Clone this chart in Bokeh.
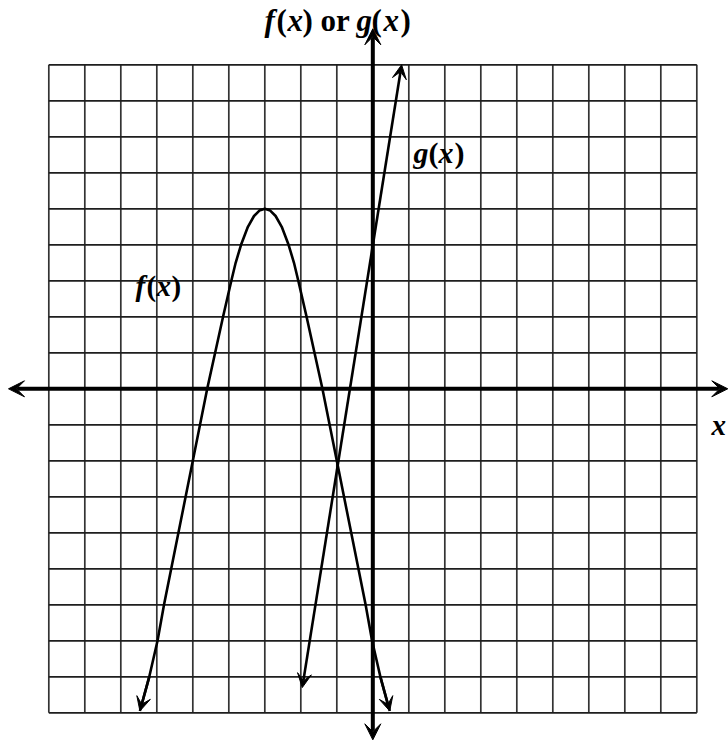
from bokeh.plotting import figure
from bokeh.models import Arrow, VeeHead, Label
from bokeh.embed import file_html
from bokeh.resources import INLINE

# ---------------- data ----------------
grid_values = list(range(-9, 10))          # grid lines at every integer, -9..9

# f(x): traced points, left branch bottom -> vertex -> right branch bottom
f_x = [-6.47, -6.21, -5.98, -5.80, -5.60, -5.40, -5.20, -5.00, -4.80, -4.60,
       -4.38, -4.16, -3.93, -3.81, -3.66, -3.47, -3.30, -3.15, -3.00,
       -2.85, -2.70, -2.53, -2.34, -2.19, -2.07, -1.84, -1.62, -1.40, -1.20,
       -1.00, -0.80, -0.60, -0.40, -0.20, -0.02, 0.21, 0.47]
f_y = [-8.95, -8.0, -7.0, -6.0, -5.0, -4.0, -3.0, -2.0, -1.0, 0.0,
       1.0, 2.0, 3.0, 3.5, 4.0, 4.5, 4.8, 4.95, 5.0,
       4.95, 4.8, 4.5, 4.0, 3.5, 3.0, 2.0, 1.0, 0.0, -1.0,
       -2.0, -3.0, -4.0, -5.0, -6.0, -7.0, -8.0, -8.95]

# g(x): straight line, end points read at its arrow tips
g_x = [-1.96, 0.80]
g_y = [-8.30, 9.00]

# axes extents (arrow tips)
x_axis_ends = [-10.12, 9.86]
y_axis_ends = [-9.75, 10.00]

PX = 36.0  # pixels per unit

p = figure(width=728, height=742, x_range=(-10.342, 9.880), y_range=(-9.825, 10.786),
           output_backend="svg", toolbar_location=None, min_border=0)
p.axis.visible = False
p.grid.visible = False
p.outline_line_color = None
p.background_fill_color = "white"
p.border_fill_color = "white"

lo, hi = grid_values[0], grid_values[-1]
# vertical grid lines
p.segment(x0=grid_values, y0=[lo] * len(grid_values), x1=grid_values, y1=[hi] * len(grid_values),
          line_color="#333333", line_width=1.7)
# horizontal grid lines
p.segment(x0=[lo] * len(grid_values), y0=grid_values, x1=[hi] * len(grid_values), y1=grid_values,
          line_color="#1e1e1e", line_width=1.7)

# coordinate axes with arrows at both ends
p.add_layout(Arrow(x_start=x_axis_ends[0], y_start=0, x_end=x_axis_ends[1], y_end=0,
                   line_width=4, line_color="black",
                   start=VeeHead(size=16, fill_color="black", line_color="black", line_width=1),
                   end=VeeHead(size=16, fill_color="black", line_color="black", line_width=1)))
p.add_layout(Arrow(x_start=0, y_start=y_axis_ends[0], x_end=0, y_end=y_axis_ends[1],
                   line_width=4, line_color="black",
                   start=VeeHead(size=16, fill_color="black", line_color="black", line_width=1),
                   end=VeeHead(size=16, fill_color="black", line_color="black", line_width=1)))

# f(x)
p.line(f_x, f_y, line_color="black", line_width=2.6, line_join="round")
p.add_layout(Arrow(x_start=f_x[1], y_start=f_y[1], x_end=f_x[0], y_end=f_y[0],
                   line_width=2.6, line_color="black",
                   end=VeeHead(size=14, fill_color="black", line_color="black", line_width=1)))
p.add_layout(Arrow(x_start=f_x[-2], y_start=f_y[-2], x_end=f_x[-1], y_end=f_y[-1],
                   line_width=2.6, line_color="black",
                   end=VeeHead(size=14, fill_color="black", line_color="black", line_width=1)))

# g(x)
p.add_layout(Arrow(x_start=g_x[0], y_start=g_y[0], x_end=g_x[1], y_end=g_y[1],
                   line_width=2.6, line_color="black",
                   start=VeeHead(size=14, fill_color="black", line_color="black", line_width=1),
                   end=VeeHead(size=14, fill_color="black", line_color="black", line_width=1)))

# ---------------- text ----------------
X0, Y0 = 372.3, 388.3   # pixel position of the origin


def put(px, baseline_py, txt, style, size):
    p.add_layout(Label(x=(px - X0) / PX, y=(Y0 - baseline_py) / PX, text=txt,
                       text_font="Liberation Serif", text_font_style=style,
                       text_font_size=f"{size}px", text_color="black",
                       text_baseline="alphabetic", text_align="left"))


BI, B = "bold italic", "bold"
# title  "f(x) or g(x)"
for px, txt, st in [(264, "f", BI), (276, "(", B), (287, "x", BI), (302, ")", B),
                    (320, "or", B), (356, "g", BI), (371, "(", B), (383, "x", BI), (400, ")", B)]:
    put(px, 20, txt, st, 31)
# curve labels
for px, txt, st in [(413, "g", BI), (428, "(", B), (438, "x", BI), (454, ")", B)]:
    put(px, 152, txt, st, 30)
for px, txt, st in [(135, "f", BI), (146, "(", B), (156, "x", BI), (171, ")", B)]:
    put(px, 286, txt, st, 29)
put(711, 425, "x", BI, 29)

open("out.html", "w").write(file_html(p, INLINE))
